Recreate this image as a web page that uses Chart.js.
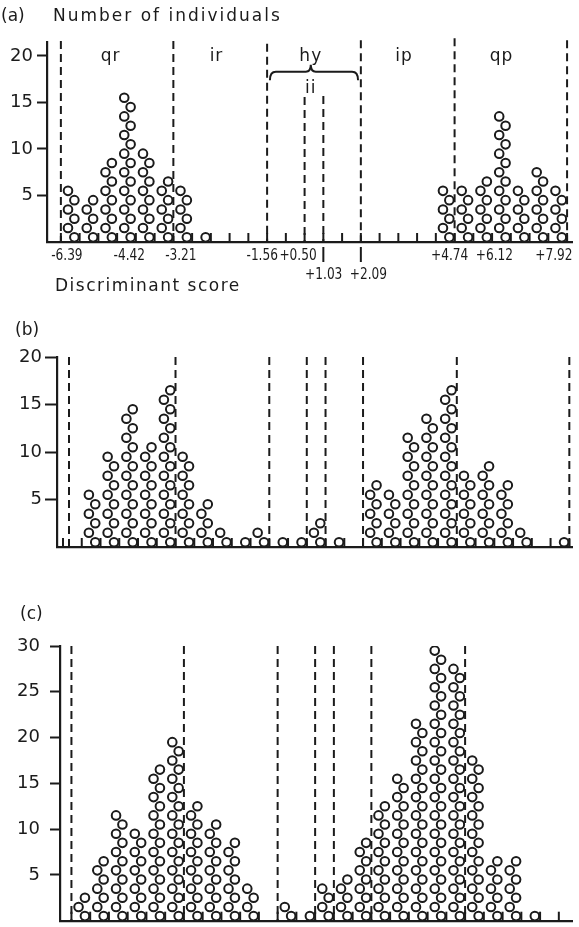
<!DOCTYPE html>
<html lang="en">
<head>
  <meta charset="UTF-8" />
  <title>Discriminant scores</title>
  <script src="https://cdn.jsdelivr.net/npm/chart.js"></script>
  <style>
    body { margin: 0; background: #fff; font-family: 'DejaVu Sans', sans-serif; color: #1b1b1b; }
    #fig { position: relative; width: 579px; height: 927px; overflow: hidden; }
    canvas { position: absolute; left: 0; }
    .lbl { position: absolute; font-size: 17px; line-height: 17px; white-space: nowrap; z-index: 2; }
  </style>
</head>
<body>
<div id="fig">
  <canvas id="chartA" width="579" height="300" style="top:0"></canvas>
  <canvas id="chartB" width="579" height="260" style="top:300px"></canvas>
  <canvas id="chartC" width="579" height="347" style="top:580px"></canvas>
  <div class="lbl" style="left:1px;top:7px">(a)</div>
  <div class="lbl" style="left:53px;top:7px;letter-spacing:2px">Number of individuals</div>
  <div class="lbl" style="left:55px;top:277px;letter-spacing:1.5px">Discriminant score</div>
  <div class="lbl" style="left:15px;top:321px">(b)</div>
  <div class="lbl" style="left:20px;top:605px">(c)</div>
</div>

<script>
  const INK = '#1b1b1b';

  // individuals per score class (28 classes along the axis)
  const countsA = [0, 6, 5, 9, 16, 10, 7, 6, 1, 0, 0, 0, 0, 0, 0, 0, 0, 0, 0, 0, 0, 6, 6, 7, 14, 6, 8, 6];
  const countsB = [0, 0, 6, 10, 15, 11, 17, 10, 5, 2, 1, 2, 1, 1, 3, 1, 0, 7, 6, 12, 14, 17, 8, 9, 7, 2, 0, 1];
  const countsC = [0, 3, 7, 12, 10, 17, 20, 13, 11, 9, 4, 0, 2, 1, 4, 5, 9, 13, 16, 22, 30, 28, 18, 7, 7, 1, 0, 0];

  // y tick labels
  const yTicksA = [5, 10, 15, 20];
  const yTicksB = [5, 10, 15, 20];
  const yTicksC = [5, 10, 15, 20, 25, 30];

  // class boundaries (dashed lines), in class units
  const boundsA = [1, 7, 12, 14, 15, 17, 22, 28];
  const boundsB = [1.32, 7, 12, 14, 15, 17, 22, 28];
  const boundsC = [1, 7, 12, 14, 15, 17, 22];
  const dashTopsA = [21.6, 21.6, 21.3, 15.6, 15.7, 21.7, 21.9, 21.7];

  const groups = ['qr', 'ir', 'hy', 'ip', 'qp'];
  const groupAt = [3.65, 9.3, 14.33, 19.3, 24.5];

  const scoreLabels = ['-6.39', '-4.42', '-3.21', '-1.56', '+0.50', '+1.03', '+2.09', '+4.74', '+6.12', '+7.92'];
  const scoreAt = [1.32, 4.65, 7.4, 11.74, 13.65, 15.02, 17.4, 21.74, 24.12, 27.3];
  const lowered = { '+1.03': 15, '+2.09': 17 };

  // one circle per individual, stacked in a zig-zag column
  function stack(counts) {
    const pts = [];
    counts.forEach((n, i) => {
      for (let k = 1; k <= n; k++) {
        pts.push({ x: i + (k % 2 ? 0.72 : 0.38), y: k - 0.5 });
      }
    });
    return pts;
  }

  function drawPanelA(chart) {
    const { ctx, chartArea, scales: { x, y } } = chart;
    ctx.save();
    ctx.fillStyle = INK;
    ctx.strokeStyle = INK;
    ctx.font = '17px "DejaVu Sans"';
    ctx.letterSpacing = '1px';
    ctx.textAlign = 'center';
    ctx.textBaseline = 'alphabetic';
    groups.forEach((g, i) => ctx.fillText(g, x.getPixelForValue(groupAt[i]), y.getPixelForValue(19.46)));
    ctx.fillText('ii', x.getPixelForValue(14.33), y.getPixelForValue(16.0));

    // brace over the hybrid zone
    const xl = x.getPixelForValue(12.15), xr = x.getPixelForValue(16.85), xm = x.getPixelForValue(14.33);
    const yb = y.getPixelForValue(17.4), yt = y.getPixelForValue(18.3), yp = y.getPixelForValue(19.05);
    ctx.lineWidth = 2;
    ctx.beginPath();
    ctx.moveTo(xl, yb);
    ctx.quadraticCurveTo(xl, yt, xl + 6, yt);
    ctx.lineTo(xm - 5, yt);
    ctx.quadraticCurveTo(xm, yt, xm, yp);
    ctx.quadraticCurveTo(xm, yt, xm + 5, yt);
    ctx.lineTo(xr - 6, yt);
    ctx.quadraticCurveTo(xr, yt, xr, yb);
    ctx.stroke();

    // discriminant score labels
    ctx.letterSpacing = '0px';
    ctx.font = '16px "DejaVu Sans"';
    ctx.textBaseline = 'middle';
    scoreLabels.forEach((t, i) => {
      const low = t in lowered;
      const px = x.getPixelForValue(scoreAt[i]);
      const py = chartArea.bottom + (low ? 33 : 14);
      ctx.save();
      ctx.translate(px, py);
      ctx.scale(0.76, 1);
      ctx.fillText(t, 0, 0);
      ctx.restore();
      if (low) {
        const mx = x.getPixelForValue(lowered[t]);
        ctx.beginPath();
        ctx.moveTo(mx, chartArea.bottom + 5);
        ctx.lineTo(mx, chartArea.bottom + 20);
        ctx.stroke();
      }
    });
    ctx.restore();
  }

  function figurePlugin(cfg) {
    return {
      id: 'figure',
      beforeDatasetsDraw(chart) {
        const { ctx, chartArea, scales: { x, y } } = chart;
        ctx.save();
        ctx.strokeStyle = INK;
        ctx.lineWidth = 2;
        // short ticks pointing up from the axis
        for (let i = Math.ceil(x.min); i <= Math.floor(x.max); i++) {
          const px = x.getPixelForValue(i);
          ctx.beginPath();
          ctx.moveTo(px, chartArea.bottom);
          ctx.lineTo(px, chartArea.bottom - 9);
          ctx.stroke();
        }
        ctx.setLineDash([8, 5]);
        cfg.bounds.forEach((b, j) => {
          const px = x.getPixelForValue(b);
          const top = y.getPixelForValue(cfg.tops ? cfg.tops[j] : y.max);
          ctx.beginPath();
          ctx.moveTo(px, top);
          ctx.lineTo(px, chartArea.bottom);
          ctx.stroke();
        });
        ctx.restore();
      },
      afterDraw(chart) {
        if (cfg.labels) cfg.labels(chart);
      }
    };
  }

  function makeChart(id, counts, cfg) {
    return new Chart(document.getElementById(id), {
      type: 'scatter',
      data: {
        datasets: [{
          data: stack(counts),
          pointRadius: 4.3,
          pointHoverRadius: 4.3,
          borderWidth: 2,
          borderColor: INK,
          backgroundColor: 'rgba(0,0,0,0)'
        }]
      },
      options: {
        responsive: false,
        animation: false,
        events: [],
        layout: { padding: cfg.pad },
        plugins: { legend: { display: false }, tooltip: { enabled: false } },
        scales: {
          x: {
            type: 'linear', min: cfg.xMin, max: cfg.xMax,
            ticks: { display: false },
            grid: { display: false, drawTicks: false },
            border: { color: INK, width: 2.2 },
            afterFit(s) { s.height = 0; s.paddingLeft = 0; s.paddingRight = 0; }
          },
          y: {
            min: 0, max: cfg.yMax,
            ticks: { color: INK, padding: cfg.labelPad, autoSkip: false, font: { family: 'DejaVu Sans', size: 18 } },
            grid: { drawOnChartArea: false, tickLength: cfg.tick, tickWidth: 2, tickColor: INK },
            border: { color: INK, width: 2.2 },
            afterBuildTicks(s) { s.ticks = cfg.yTicks.map(v => ({ value: v })); },
            afterFit(s) { s.width = cfg.axisX; s.paddingTop = 0; s.paddingBottom = 0; }
          }
        }
      },
      plugins: [figurePlugin(cfg)]
    });
  }

  makeChart('chartA', countsA, {
    pad: { left: 0, top: 42, right: 2, bottom: 58 }, axisX: 47,
    xMin: 0.26, xMax: 28.3, yMax: 21.5, yTicks: yTicksA, tick: 10, labelPad: 4,
    bounds: boundsA, tops: dashTopsA, labels: drawPanelA
  });
  makeChart('chartB', countsB, {
    pad: { left: 0, top: 57, right: 2.3, bottom: 13 }, axisX: 57,
    xMin: 0.68, xMax: 28.18, yMax: 20, yTicks: yTicksB, tick: 12, labelPad: 3,
    bounds: boundsB
  });
  makeChart('chartC', countsC, {
    pad: { left: 0, top: 66, right: 2, bottom: 1 }, axisX: 60,
    xMin: 0.39, xMax: 27.74, yMax: 30, yTicks: yTicksC, tick: 10, labelPad: 10,
    bounds: boundsC
  });
</script>
</body>
</html>
